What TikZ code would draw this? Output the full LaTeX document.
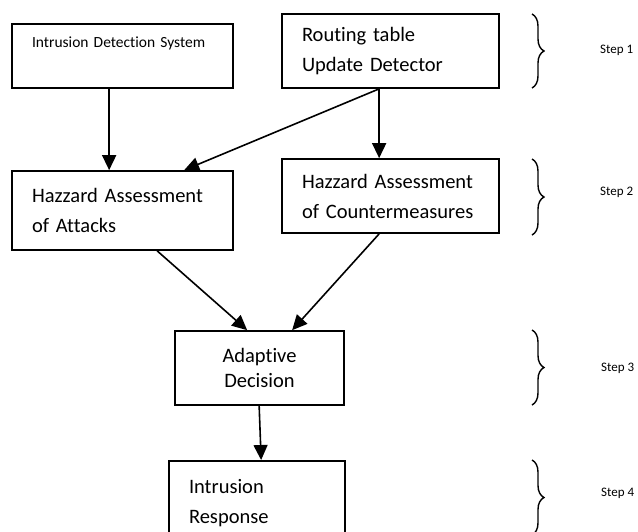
\documentclass[tikz,border=0pt]{standalone}
\usepackage{fontspec}
\setmainfont{Carlito}[Ligatures=NoCommon]
\usetikzlibrary{arrows.meta,decorations.pathreplacing}
\begin{document}
\begin{tikzpicture}[x=1pt,y=-1pt,
  box/.style={draw,line width=1.7pt,rectangle,inner ysep=0pt,inner xsep=20pt,align=left},
  big/.style={font=\fontsize{20.5}{30}\selectfont},
  arr/.style={line width=1.6pt,-{Triangle[length=15pt,width=14pt]}},
  brc/.style={line width=1.4pt,decorate,decoration={brace,amplitude=12pt}},
  steptext/.style={anchor=west,inner sep=0pt,font=\fontsize{13}{15}\selectfont}]
\useasboundingbox (0,0) rectangle (638,531);
\node[box,text width=181pt,minimum height=64pt,font=\fontsize{15.5}{22}\selectfont] (ids) at (122.5,56) {Intrusion Detection System\\\strut};
\node[box,big,text width=177pt,minimum height=74pt] (rt) at (390.5,51) {Routing table\\Update Detector};
\node[box,big,text width=181pt,minimum height=79pt] (att) at (122.5,210.5) {Hazzard Assessment\\of Attacks};
\node[box,big,text width=177pt,minimum height=74pt] (cm) at (390.5,196) {Hazzard Assessment\\of Countermeasures};
\node[box,font=\fontsize{20.5}{25}\selectfont,align=center,text width=129pt,minimum height=74pt] (ad) at (259.5,368) {Adaptive\\Decision};
\node[box,big,text width=136pt,minimum height=85pt,anchor=north] (ir) at (257,460) {Intrusion\\Response\\[12pt]};
\draw[arr] ([xshift=98pt]ids.south west) -- ([xshift=98pt]att.north west);
\draw[arr] ([xshift=98pt]rt.south west) -- ([xshift=173pt]att.north west);
\draw[arr] ([xshift=98pt]rt.south west) -- ([xshift=98pt]cm.north west);
\draw[arr] ([xshift=146pt]att.south west) -- ([xshift=73pt]ad.north west);
\draw[arr] ([xshift=98pt]cm.south west) -- ([xshift=118pt]ad.north west);
\draw[arr] ([xshift=85pt]ad.south west) -- ([xshift=93pt]ir.north west);
\coordinate (b1a) at (532,14); \coordinate (b1b) at (532,88);
\coordinate (b2a) at (532,159); \coordinate (b2b) at (532,235);
\coordinate (b3a) at (532,330); \coordinate (b3b) at (532,405);
\coordinate (b4a) at (532,460); \coordinate (b4b) at (532,535);
\draw[brc] (b1a) -- (b1b);
\draw[brc] (b2a) -- (b2b);
\draw[brc] (b3a) -- (b3b);
\draw[brc] (b4a) -- (b4b);
\node[steptext] (s1) at (600,50) {Step 1};
\node[steptext] (s2) at (600,192) {Step 2};
\node[steptext] (s3) at (601,368) {Step 3};
\node[steptext] (s4) at (601,493) {Step 4};
\end{tikzpicture}
\end{document}
